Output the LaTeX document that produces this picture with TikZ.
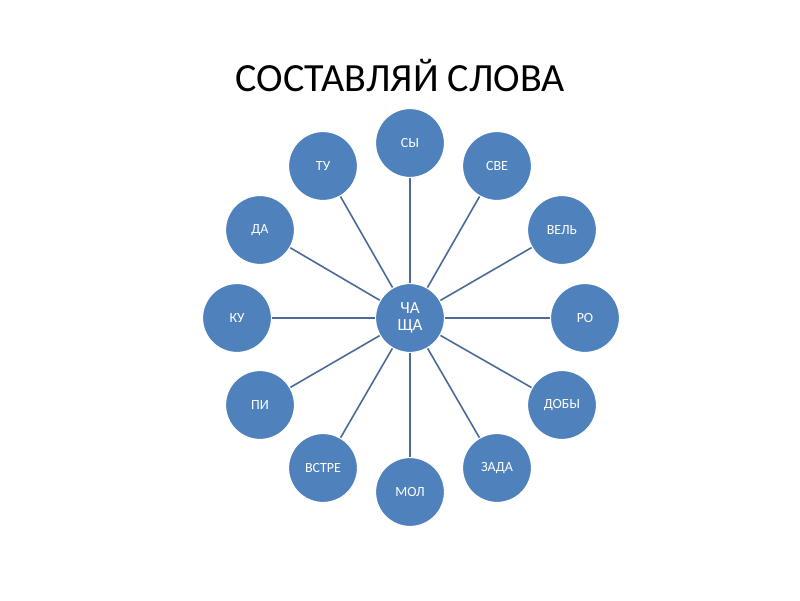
\documentclass[tikz,border=0pt]{standalone}
\usepackage{fontspec}
\setmainfont{Carlito}
\definecolor{cfill}{HTML}{4F81BD}
\definecolor{cline}{HTML}{4A6A9A}
\begin{document}
\begin{tikzpicture}[x=1pt,y=-1pt,
  bub/.style={circle,fill=cfill,draw=white,line width=1.2pt,minimum size=69pt,inner sep=0pt,text=white,font=\fontsize{14}{15}\selectfont,align=center},
  spoke/.style={draw=cline,line width=1.6pt}]
\useasboundingbox (0,0) rectangle (800,600);
\node[font=\fontsize{40}{44}\selectfont] (title) at (400,76) {СОСТАВЛЯЙ СЛОВА};
\node[bub,font=\fontsize{17}{17}\selectfont] (c) at (410,318) {ЧА\\ЩА};
\foreach \n/\t/\x/\y in {a/СЫ/410/143, b/СВЕ/497/166, d/ВЕЛЬ/562/230, e/РО/585/318, f/ДОБЫ/562/405, g/ЗАДА/497/468, h/МОЛ/410/492, i/ВСТРЕ/323/468, j/ПИ/260/405, k/КУ/237/318, l/ДА/260/230, m/ТУ/323/166}{
  \node[bub] (\n) at (\x,\y) {\t};
  \draw[spoke] (c) -- (\n);
}
\end{tikzpicture}
\end{document}
